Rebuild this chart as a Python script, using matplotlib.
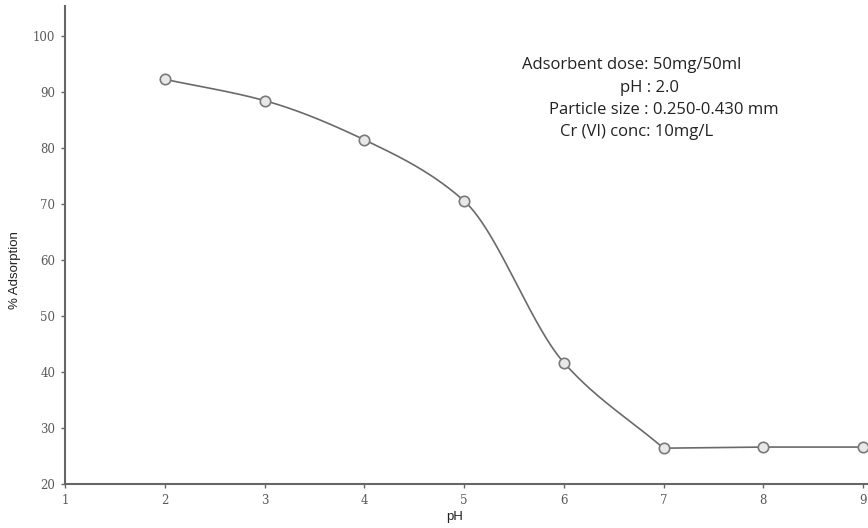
import numpy as np
import matplotlib.pyplot as plt

# pH vs % adsorption
ph = [2, 3, 4, 5, 6, 7, 8, 9]
adsorption = [92.3, 88.5, 81.5, 70.6, 41.7, 26.4, 26.6, 26.6]

notes = ['Adsorbent dose: 50mg/50ml', 'pH : 2.0',
         'Particle size : 0.250-0.430 mm', 'Cr (VI) conc: 10mg/L']


def smooth(x, y, n=80):
    # monotone cubic (pchip-like) through the points, just for the drawn line
    x = np.asarray(x, float)
    y = np.asarray(y, float)
    h = np.diff(x)
    d = np.diff(y) / h
    m = np.zeros_like(y)
    for k in range(1, len(x) - 1):
        if d[k - 1] * d[k] > 0:
            w1 = 2 * h[k] + h[k - 1]
            w2 = h[k] + 2 * h[k - 1]
            m[k] = (w1 + w2) / (w1 / d[k - 1] + w2 / d[k])
    m[0] = d[0]
    m[-1] = d[-1]
    xo, yo = [], []
    for k in range(len(x) - 1):
        t = np.linspace(0, 1, n)
        h00 = 2 * t**3 - 3 * t**2 + 1
        h10 = t**3 - 2 * t**2 + t
        h01 = -2 * t**3 + 3 * t**2
        h11 = t**3 - t**2
        xo.append(x[k] + t * h[k])
        yo.append(h00 * y[k] + h10 * h[k] * m[k] + h01 * y[k + 1] + h11 * h[k] * m[k + 1])
    return np.concatenate(xo), np.concatenate(yo)


fig = plt.figure(figsize=(8.68, 5.28), dpi=100)
ax = fig.add_axes([65 / 868, 1 - 484 / 528, 1 - 65 / 868, (484 - 6) / 528])

# curved part up to pH 7, flat plateau after
cx, cy = smooth(ph[:6], adsorption[:6])
ax.plot(cx, cy, color='#6a6a6a', lw=1.2)
ax.plot(ph[5:], adsorption[5:], color='#6a6a6a', lw=1.2)
ax.plot(ph, adsorption, 'o', ms=7.5, mfc='#e8e8e8', mec='#7a7a7a', mew=1.2)

ax.set_xlim(1, 9.05)
ax.set_ylim(20, 105.4)
ax.set_xticks(range(1, 10))
ax.set_yticks(range(20, 101, 10))
for s in ['top', 'right']:
    ax.spines[s].set_visible(False)
for s in ['left', 'bottom']:
    ax.spines[s].set_color('#666666')
    ax.spines[s].set_linewidth(1.5)
ax.tick_params(length=3, width=1, color='#666666', labelcolor='#5a5a5a', pad=4)
for lab in ax.get_xticklabels() + ax.get_yticklabels():
    lab.set_family('DejaVu Serif')
    lab.set_fontsize(8.5)

fig.text(15 / 868, 1 - 270 / 528, '% Adsorption', rotation=90, ha='center', va='center',
         family='Liberation Sans', fontsize=9.5, color='#222222')
fig.text(455 / 868, 1 - 517 / 528, 'pH', ha='center', va='center',
         family='Liberation Sans', fontsize=9.5, color='#222222')

note_pos = [(522, 65), (620, 88), (549, 110), (560, 132)]
for txt, (px, py) in zip(notes, note_pos):
    fig.text(px / 868, 1 - py / 528, txt, ha='left', va='center',
             family='Open Sans', fontsize=12, color='#222222')

fig.savefig('out.png', dpi=100)
